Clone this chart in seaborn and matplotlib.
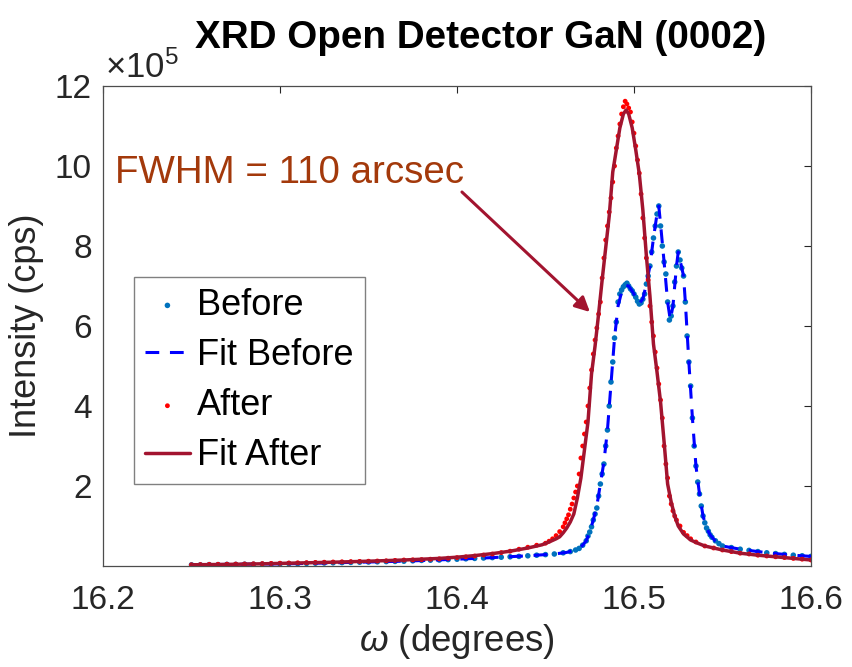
import numpy as np
import pandas as pd
import matplotlib
matplotlib.use("Agg")
import matplotlib.pyplot as plt
import seaborn as sns
from matplotlib.ticker import FixedLocator, FuncFormatter

# ---------------- data (intensity in units of 1e5 cps) ----------------
before_x = [16.250, 16.255, 16.260, 16.265, 16.270, 16.275, 16.280, 16.285, 16.290, 16.295,
            16.300, 16.305, 16.310, 16.315, 16.320, 16.325, 16.330, 16.335, 16.340, 16.345,
            16.350, 16.355, 16.360, 16.365, 16.370, 16.375, 16.380, 16.385, 16.390, 16.395,
            16.400, 16.405, 16.410, 16.415, 16.420, 16.425, 16.430, 16.435, 16.440, 16.445,
            16.450, 16.455, 16.460, 16.464, 16.467, 16.469, 16.471, 16.473, 16.474, 16.475,
            16.476, 16.477, 16.478, 16.479, 16.480, 16.481, 16.482, 16.483, 16.484, 16.485,
            16.486, 16.487, 16.488, 16.489, 16.490, 16.491, 16.492, 16.493, 16.494, 16.495,
            16.496, 16.497, 16.498, 16.499, 16.500, 16.501, 16.502, 16.503, 16.504, 16.505,
            16.506, 16.507, 16.508, 16.509, 16.510, 16.511, 16.512, 16.513, 16.514, 16.515,
            16.516, 16.517, 16.518, 16.519, 16.520, 16.521, 16.522, 16.523, 16.524, 16.525,
            16.526, 16.527, 16.528, 16.529, 16.530, 16.531, 16.532, 16.533, 16.534, 16.535,
            16.536, 16.537, 16.538, 16.539, 16.540, 16.541, 16.542, 16.543, 16.544, 16.546,
            16.548, 16.550, 16.555, 16.560, 16.565, 16.570, 16.575, 16.580, 16.585, 16.590,
            16.595, 16.600]
before_y = [0.03, 0.03, 0.035, 0.035, 0.04, 0.04, 0.045, 0.045, 0.05, 0.05,
            0.055, 0.06, 0.06, 0.065, 0.07, 0.075, 0.08, 0.085, 0.09, 0.095,
            0.10, 0.105, 0.11, 0.115, 0.12, 0.13, 0.14, 0.145, 0.15, 0.16,
            0.17, 0.18, 0.19, 0.20, 0.21, 0.22, 0.23, 0.24, 0.255, 0.27,
            0.285, 0.30, 0.33, 0.36, 0.40, 0.44, 0.52, 0.63, 0.75, 0.85,
            0.98, 1.15, 1.30, 1.45, 1.75, 2.05, 2.30, 2.55, 3.00, 3.40,
            4.00, 4.60, 5.10, 5.70, 6.10, 6.60, 6.80, 6.90, 6.98, 7.03,
            7.07, 7.00, 6.93, 6.88, 6.80, 6.72, 6.62, 6.55, 6.58, 6.67,
            6.80, 7.05, 7.25, 7.50, 7.85, 8.20, 8.50, 8.80, 9.00, 8.50,
            8.00, 7.60, 7.30, 6.60, 6.15, 6.25, 6.50, 7.10, 7.50, 7.85,
            7.65, 7.45, 7.25, 6.60, 5.75, 5.10, 4.50, 3.70, 3.00, 2.50,
            2.10, 1.80, 1.50, 1.25, 1.08, 0.95, 0.87, 0.78, 0.72, 0.63,
            0.56, 0.50, 0.46, 0.42, 0.39, 0.36, 0.33, 0.31, 0.29, 0.27,
            0.255, 0.24]

fit_before_x = [16.250, 16.280, 16.310, 16.340, 16.370, 16.400, 16.420, 16.440, 16.455, 16.462,
                16.466, 16.469, 16.471, 16.473, 16.475, 16.477, 16.479, 16.481, 16.483, 16.485,
                16.487, 16.489, 16.491, 16.493, 16.495, 16.497, 16.499, 16.501, 16.503, 16.505,
                16.507, 16.509, 16.511, 16.513, 16.514, 16.515, 16.517, 16.519, 16.5205, 16.522,
                16.524, 16.525, 16.527, 16.528, 16.529, 16.531, 16.533, 16.535, 16.537, 16.539,
                16.541, 16.543, 16.546, 16.550, 16.560, 16.570, 16.580, 16.590, 16.600]
fit_before_y = [0.03, 0.045, 0.06, 0.09, 0.12, 0.17, 0.21, 0.255, 0.30, 0.34,
                0.39, 0.44, 0.52, 0.63, 0.85, 1.15, 1.50, 2.05, 2.60, 3.40,
                4.55, 5.70, 6.50, 6.85, 7.02, 7.00, 6.87, 6.72, 6.56, 6.68,
                7.05, 7.50, 8.20, 8.80, 9.00, 8.55, 7.60, 6.60, 6.15, 6.50,
                7.50, 7.85, 7.45, 7.25, 6.60, 5.10, 3.70, 2.50, 1.80, 1.25,
                0.95, 0.78, 0.62, 0.50, 0.42, 0.36, 0.31, 0.27, 0.24]

after_x = [16.250, 16.255, 16.260, 16.265, 16.270, 16.275, 16.280, 16.285, 16.290, 16.295,
           16.300, 16.305, 16.310, 16.315, 16.320, 16.325, 16.330, 16.335, 16.340, 16.345,
           16.350, 16.355, 16.360, 16.365, 16.370, 16.375, 16.380, 16.385, 16.390, 16.395,
           16.400, 16.405, 16.410, 16.415, 16.420, 16.425, 16.430, 16.435, 16.440, 16.445,
           16.450, 16.452, 16.454, 16.456, 16.458, 16.460, 16.461, 16.462, 16.463, 16.464,
           16.465, 16.466, 16.467, 16.468, 16.469, 16.470, 16.471, 16.472, 16.473, 16.474,
           16.475, 16.476, 16.477, 16.478, 16.479, 16.480, 16.481, 16.482, 16.483, 16.484,
           16.485, 16.486, 16.487, 16.488, 16.489, 16.490, 16.491, 16.492, 16.493, 16.494,
           16.495, 16.496, 16.497, 16.498, 16.499, 16.500, 16.501, 16.502, 16.503, 16.504,
           16.505, 16.506, 16.507, 16.508, 16.509, 16.510, 16.511, 16.512, 16.513, 16.514,
           16.515, 16.516, 16.517, 16.518, 16.519, 16.520, 16.521, 16.522, 16.523, 16.524,
           16.526, 16.528, 16.530, 16.532, 16.535, 16.540, 16.545, 16.550, 16.555, 16.560,
           16.565, 16.570, 16.575, 16.580, 16.585, 16.590, 16.595, 16.600]
after_y = [0.03, 0.035, 0.04, 0.042, 0.045, 0.048, 0.05, 0.055, 0.06, 0.065,
           0.07, 0.075, 0.08, 0.085, 0.09, 0.095, 0.10, 0.105, 0.11, 0.115,
           0.12, 0.125, 0.13, 0.14, 0.15, 0.155, 0.16, 0.17, 0.18, 0.195,
           0.21, 0.23, 0.25, 0.275, 0.30, 0.335, 0.37, 0.42, 0.47, 0.52,
           0.57, 0.62, 0.68, 0.76, 0.86, 0.98, 1.08, 1.18, 1.28, 1.42,
           1.55, 1.70, 1.85, 2.00, 2.30, 2.70, 3.00, 3.30, 3.60, 4.00,
           4.45, 4.90, 5.30, 5.65, 5.95, 6.30, 6.60, 7.20, 7.70, 8.15,
           8.50, 8.85, 9.20, 9.60, 10.00, 10.45, 10.75, 11.05, 11.30, 11.48,
           11.62, 11.55, 11.45, 11.35, 11.10, 10.82, 10.50, 10.15, 9.82, 9.30,
           8.70, 8.20, 7.70, 7.15, 6.50, 6.10, 5.75, 5.35, 4.95, 4.55,
           4.15, 3.70, 3.00, 2.55, 2.20, 1.75, 1.55, 1.38, 1.25, 1.15,
           1.00, 0.84, 0.76, 0.68, 0.60, 0.50, 0.45, 0.40, 0.36, 0.32,
           0.30, 0.27, 0.25, 0.23, 0.21, 0.19, 0.17, 0.15]

fit_after_x = [16.250, 16.270, 16.290, 16.310, 16.330, 16.350, 16.370, 16.390, 16.400, 16.410,
               16.420, 16.430, 16.440, 16.448, 16.452, 16.456, 16.458, 16.460, 16.462, 16.464,
               16.466, 16.468, 16.470, 16.472, 16.474, 16.476, 16.478, 16.480, 16.482, 16.484,
               16.486, 16.488, 16.490, 16.492, 16.494, 16.4955, 16.497, 16.499, 16.501, 16.503,
               16.505, 16.507, 16.509, 16.511, 16.513, 16.515, 16.517, 16.519, 16.521, 16.523,
               16.525, 16.528, 16.532, 16.536, 16.540, 16.550, 16.560, 16.570, 16.580, 16.590,
               16.600]
fit_after_y = [0.03, 0.04, 0.055, 0.075, 0.095, 0.12, 0.15, 0.19, 0.22, 0.26,
               0.31, 0.37, 0.45, 0.53, 0.60, 0.68, 0.73, 0.83, 0.95, 1.10,
               1.30, 1.70, 2.20, 2.90, 3.60, 4.80, 5.50, 6.30, 7.15, 7.95,
               8.75, 9.85, 10.40, 10.95, 11.30, 11.40, 11.30, 10.95, 10.40, 9.80,
               8.90, 7.75, 6.75, 5.55, 4.85, 4.10, 3.10, 2.05, 1.60, 1.25,
               1.00, 0.80, 0.65, 0.57, 0.50, 0.40, 0.32, 0.27, 0.23, 0.19,
               0.15]

y_ticks = [2, 4, 6, 8, 10, 12]
x_ticks = [16.2, 16.3, 16.4, 16.5, 16.6]
SCALE = 1e5

# ---------------- style ----------------
sns.set_theme(style="white")
plt.rcParams["font.family"] = ["Liberation Sans", "DejaVu Sans"]
plt.rcParams["mathtext.fontset"] = "custom"
plt.rcParams["mathtext.rm"] = "Liberation Sans"
plt.rcParams["mathtext.it"] = "Liberation Sans:italic"
plt.rcParams["mathtext.bf"] = "Liberation Sans:bold"

W, H = 852, 667
fig = plt.figure(figsize=(W / 100, H / 100), dpi=100)
ax = fig.add_axes([103 / W, 1 - 566 / H, (811 - 103) / W, (566 - 86) / H])

c_before = "#0072BD"
c_fitb = "#0000FF"
c_after = "#FF0000"
c_fita = "#A2142F"

df_b = pd.DataFrame({"x": before_x, "y": np.array(before_y) * SCALE})
df_fb = pd.DataFrame({"x": fit_before_x, "y": np.array(fit_before_y) * SCALE})
df_a = pd.DataFrame({"x": after_x, "y": np.array(after_y) * SCALE})
df_fa = pd.DataFrame({"x": fit_after_x, "y": np.array(fit_after_y) * SCALE})

sns.scatterplot(data=df_b, x="x", y="y", ax=ax, color=c_before, s=16,
                edgecolor="none", label="Before", zorder=2)
sns.lineplot(data=df_fb, x="x", y="y", ax=ax, color=c_fitb, lw=2.2,
             linestyle=(0, (4.5, 3.5)), sort=False, estimator=None,
             label="Fit Before", zorder=3)
sns.scatterplot(data=df_a, x="x", y="y", ax=ax, color=c_after, s=12,
                edgecolor="none", label="After", zorder=4)
sns.lineplot(data=df_fa, x="x", y="y", ax=ax, color=c_fita, lw=2.5,
             sort=False, estimator=None, label="Fit After", zorder=5)

ax.set_xlim(16.2, 16.6)
ax.set_ylim(0, 12 * SCALE)
ax.xaxis.set_major_locator(FixedLocator(x_ticks))
ax.yaxis.set_major_locator(FixedLocator([t * SCALE for t in y_ticks]))
ax.xaxis.set_major_formatter(FuncFormatter(lambda v, p: f"{v:.1f}"))
ax.yaxis.set_major_formatter(FuncFormatter(lambda v, p: f"{v / SCALE:g}"))

tick_c = "#262626"
ax.tick_params(axis="both", which="major", direction="in", length=5, width=0.8,
               top=True, right=True, labelsize=24, colors=tick_c, pad=8)
ax.tick_params(axis="x", pad=14)
for sp in ax.spines.values():
    sp.set_color("#4d4d4d")
    sp.set_linewidth(0.9)
    sp.set_visible(True)

ax.set_xlabel(r"$\mathit{\omega}$ (degrees)", fontsize=26.5, color=tick_c, labelpad=4)
ax.set_ylabel("Intensity (cps)", fontsize=26, color=tick_c, labelpad=8)

fig.text(481 / W, 1 - 48 / H, "XRD Open Detector GaN (0002)", fontsize=27.8,
         fontweight="bold", ha="center", va="baseline", color="black")
fig.text(105 / W, 1 - 78 / H, r"$\times10^{5}$", fontsize=25, ha="left",
         va="baseline", color=tick_c)

# annotation
ax.text(16.2068, 9.575 * SCALE, "FWHM = 110 arcsec", fontsize=27.7,
        color="#A3390B", ha="left", va="baseline")
ax.annotate("", xy=(16.4751, 6.35 * SCALE), xytext=(16.4028, 9.35 * SCALE),
            arrowprops=dict(arrowstyle="-|>", color=c_fita, lw=2.2,
                            mutation_scale=22, shrinkA=0, shrinkB=0))

leg = ax.legend(loc="upper left", bbox_to_anchor=(0.0438, 0.602), fontsize=26,
                frameon=True, fancybox=False, framealpha=1, edgecolor="#808080",
                handlelength=1.25, handletextpad=0.2, labelspacing=0.42,
                borderpad=0.3, borderaxespad=0, markerscale=1.0)
leg.get_frame().set_linewidth(1.0)
for t in leg.get_texts():
    t.set_color("black")

fig.savefig("out.png", dpi=100, facecolor="white")
